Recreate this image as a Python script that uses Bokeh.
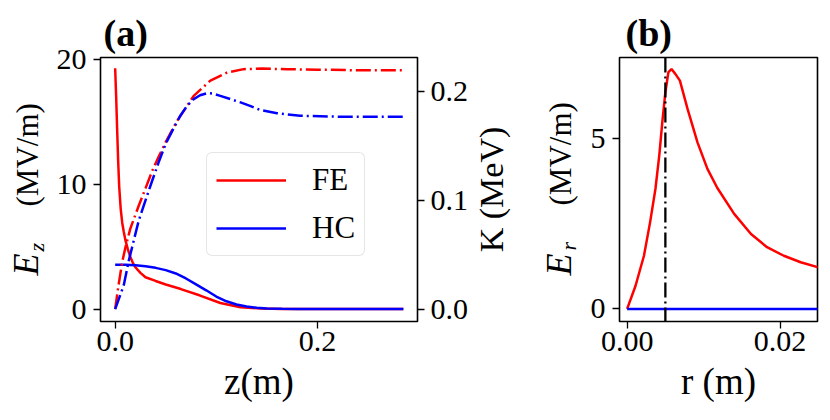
import math
from bokeh.plotting import figure
from bokeh.models import (Range1d, LinearAxis, Legend, LegendItem, Span, Title,
                          FixedTicker, PrintfTickFormatter)
from bokeh.core.properties import value
from bokeh.layouts import row
from bokeh.embed import file_html
from bokeh.resources import INLINE

# ---------------- data ----------------
# panel (a): axial field Ez (MV/m) vs z (m)
z_fe = [0.0, 0.001, 0.002, 0.003, 0.004, 0.0055, 0.007, 0.0085, 0.0102, 0.0125,
        0.0151, 0.0175, 0.020, 0.025, 0.030, 0.040, 0.050, 0.065, 0.084, 0.104,
        0.124, 0.144, 0.165, 0.20, 0.285]
ez_fe = [19.3, 17.0, 14.3, 11.8, 9.8, 8.0, 6.9, 6.2, 5.5, 4.8,
         4.15, 3.7, 3.35, 2.9, 2.55, 2.25, 1.97, 1.6, 1.08, 0.48,
         0.15, 0.04, 0.01, 0.0, 0.0]

z_hc = [0.0, 0.01, 0.02, 0.03, 0.04, 0.05, 0.06, 0.07, 0.08, 0.09, 0.10, 0.11,
        0.12, 0.13, 0.14, 0.15, 0.165, 0.18, 0.20, 0.285]
ez_hc = [3.55, 3.54, 3.5, 3.42, 3.3, 3.12, 2.85, 2.45, 1.98, 1.5, 1.0, 0.62,
         0.36, 0.2, 0.1, 0.05, 0.02, 0.0, 0.0, 0.0]

# panel (a): kinetic energy K (MeV) vs z (m)
z_kfe = [0.0, 0.003, 0.0069, 0.0102, 0.015, 0.0233, 0.030, 0.0366, 0.043, 0.0497,
         0.0613, 0.0777, 0.0942, 0.1107, 0.127, 0.145, 0.17, 0.20, 0.24, 0.285]
k_fe = [0.0, 0.02, 0.043, 0.057, 0.074, 0.095, 0.111, 0.127, 0.14, 0.153,
        0.173, 0.196, 0.210, 0.2174, 0.2205, 0.221, 0.2205, 0.220, 0.2195, 0.2195]

z_khc = [0.0, 0.0085, 0.0135, 0.0233, 0.030, 0.0366, 0.043, 0.05, 0.0577, 0.0646,
         0.0713, 0.0777, 0.084, 0.091, 0.097, 0.104, 0.114, 0.124, 0.134, 0.1436,
         0.160, 0.183, 0.223, 0.285]
k_hc = [0.0, 0.022, 0.0447, 0.0814, 0.10, 0.118, 0.135, 0.152, 0.166, 0.178,
        0.187, 0.193, 0.1965, 0.1985, 0.198, 0.196, 0.193, 0.190, 0.1865, 0.183,
        0.180, 0.1777, 0.1768, 0.1768]

# panel (b): radial field Er (MV/m) vs r (m)
r_fe = [0.0, 0.0011, 0.0022, 0.003, 0.0037, 0.0042, 0.0046, 0.005, 0.0054, 0.0058,
        0.0063, 0.0069, 0.0079, 0.0092, 0.0105, 0.0118, 0.014, 0.0162, 0.0183,
        0.0205, 0.0227, 0.025]
er_fe = [0.0, 0.68, 1.56, 2.54, 3.52, 4.5, 5.48, 6.36, 6.95, 7.04,
         6.9, 6.7, 5.87, 4.89, 4.11, 3.55, 2.79, 2.2, 1.81,
         1.56, 1.37, 1.22]
r_hc = [0.0, 0.025]
er_hc = [0.0, 0.0]
r_wall = [0.005]

labels_series = ["FE", "HC"]
ticks_za = [0.0, 0.2]
ticks_eza = [0, 10, 20]
ticks_k = [0.0, 0.1, 0.2]
ticks_r = [0.0, 0.02]
ticks_erb = [0, 5]

# ---------------- style ----------------
FONT = "Liberation Serif"
RED = "#ff0000"
BLUE = "#0000ff"
LW = 2.5
DASHDOT = "15 4 2 4"
TICK_FS = "30px"
H = 418
TOP = 57
BOT = 97


def style_axis(ax, ticks, fmt, standoff):
    ax.ticker = FixedTicker(ticks=ticks)
    ax.formatter = PrintfTickFormatter(format=fmt)
    ax.major_label_text_font = FONT
    ax.major_label_text_font_size = TICK_FS
    ax.major_label_text_color = "black"
    ax.major_label_standoff = standoff
    ax.major_tick_out = 7
    ax.major_tick_in = 0
    ax.major_tick_line_color = "black"
    ax.major_tick_line_width = 1.3
    ax.minor_tick_line_color = None
    ax.axis_line_color = None
    ax.axis_label_text_font = FONT
    ax.axis_label_text_font_style = "normal"
    ax.axis_label_text_color = "black"


def base_fig(width, xr, yr, left, right):
    p = figure(width=width, height=H, output_backend="svg", toolbar_location=None,
               x_range=xr, y_range=yr,
               min_border_left=left, min_border_right=right,
               min_border_top=TOP, min_border_bottom=BOT)
    p.grid.visible = False
    p.outline_line_color = "black"
    p.outline_line_width = 1.6
    p.background_fill_color = "white"
    p.border_fill_color = "white"
    return p


def text_fig(width):
    # plain text strip; its frame spans the full width and the same rows as the plots,
    # coordinates are page pixels (y measured upward from the bottom of the canvas)
    t = figure(width=width, height=H, output_backend="svg", toolbar_location=None,
               x_range=Range1d(0, width), y_range=Range1d(BOT, H - TOP),
               x_axis_type=None, y_axis_type=None,
               min_border_left=0, min_border_right=0, min_border_top=TOP,
               min_border_bottom=BOT)
    t.grid.visible = False
    t.outline_line_color = None
    t.background_fill_color = "white"
    t.border_fill_color = "white"
    return t


def add_text(t, txt, x, y_page, size, style="normal", angle=0.0, align="left"):
    t.text(x=[x], y=[H - y_page], text=[txt], angle=angle,
           text_font=value(FONT), text_font_size=size, text_font_style=style,
           text_color="black", text_align=align, text_baseline="middle")


def add_title(p, txt, offset):
    p.add_layout(Title(text=txt, align="left", offset=offset, standoff=7,
                       text_font=FONT, text_font_size="38px",
                       text_font_style="bold", text_color="black"), "above")


# ---------------- left text strip: E_z (MV/m) ----------------
ta = text_fig(50)
add_text(ta, "E", 25, 275, "36px", "italic", math.pi / 2)
add_text(ta, "z", 35.5, 251, "22px", "italic", math.pi / 2)
add_text(ta, "(MV/m)", 26.5, 206, "31px", "normal", math.pi / 2)

# ---------------- panel (a) ----------------
pa = base_fig(422, Range1d(-0.0145, 0.299), Range1d(-1.0, 20.16), 50, 55)
pa.extra_y_ranges = {"K": Range1d(-0.0113, 0.2312)}
kaxis = LinearAxis(y_range_name="K")
pa.add_layout(kaxis, "right")

style_axis(pa.xaxis[0], ticks_za, "%.1f", 3)
style_axis(pa.yaxis[0], ticks_eza, "%d", 7)
style_axis(kaxis, ticks_k, "%.1f", 6)
pa.xaxis[0].axis_label = "z(m)"
pa.xaxis[0].axis_label_text_font_size = "37px"
pa.xaxis[0].axis_label_standoff = 7
add_title(pa, "(a)", 3)

r1 = pa.line(z_fe, ez_fe, line_color=RED, line_width=LW)
r2 = pa.line(z_hc, ez_hc, line_color=BLUE, line_width=LW)
pa.line(z_kfe, k_fe, line_color=RED, line_width=LW, line_dash=DASHDOT, y_range_name="K")
pa.line(z_khc, k_hc, line_color=BLUE, line_width=LW, line_dash=DASHDOT, y_range_name="K")

leg = Legend(items=[LegendItem(label=labels_series[0], renderers=[r1]),
                    LegendItem(label=labels_series[1], renderers=[r2])],
             location=(106, 65), margin=0, padding=9, spacing=12,
             glyph_width=70, glyph_height=34, label_height=34, label_standoff=26,
             label_text_font=FONT, label_text_font_size="31px", label_text_color="black",
             border_line_color="#cccccc", border_line_width=1.3, border_radius=6,
             background_fill_color="white", background_fill_alpha=0.8)
pa.add_layout(leg)

# ---------------- middle text strip: K (MeV) and E_r (MV/m) ----------------
X0 = 472
tb = text_fig(108)
add_text(tb, "K (MeV)", 490.5 - X0, 189, "34px", "normal", math.pi / 2, "center")
add_text(tb, "E", 558 - X0, 275, "36px", "italic", math.pi / 2)
add_text(tb, "r", 567.5 - X0, 250, "22px", "italic", math.pi / 2)
add_text(tb, "(MV/m)", 559.5 - X0, 205, "31px", "normal", math.pi / 2)

# ---------------- panel (b) ----------------
pb = base_fig(248, Range1d(-0.001, 0.0249), Range1d(-0.37, 7.38), 39, 11)
style_axis(pb.xaxis[0], ticks_r, "%.2f", 3)
style_axis(pb.yaxis[0], ticks_erb, "%d", 7)
pb.xaxis[0].axis_label = "r (m)"
pb.xaxis[0].axis_label_text_font_size = "37px"
pb.xaxis[0].axis_label_standoff = 7
add_title(pb, "(b)", 6)

pb.line(r_fe, er_fe, line_color=RED, line_width=LW)
pb.line(r_hc, er_hc, line_color=BLUE, line_width=LW)
pb.add_layout(Span(location=r_wall[0], dimension="height", line_color="black",
                   line_width=2.3, line_dash=DASHDOT))

layout = row(ta, pa, tb, pb)
open("out.html", "w").write(file_html(layout, INLINE))
